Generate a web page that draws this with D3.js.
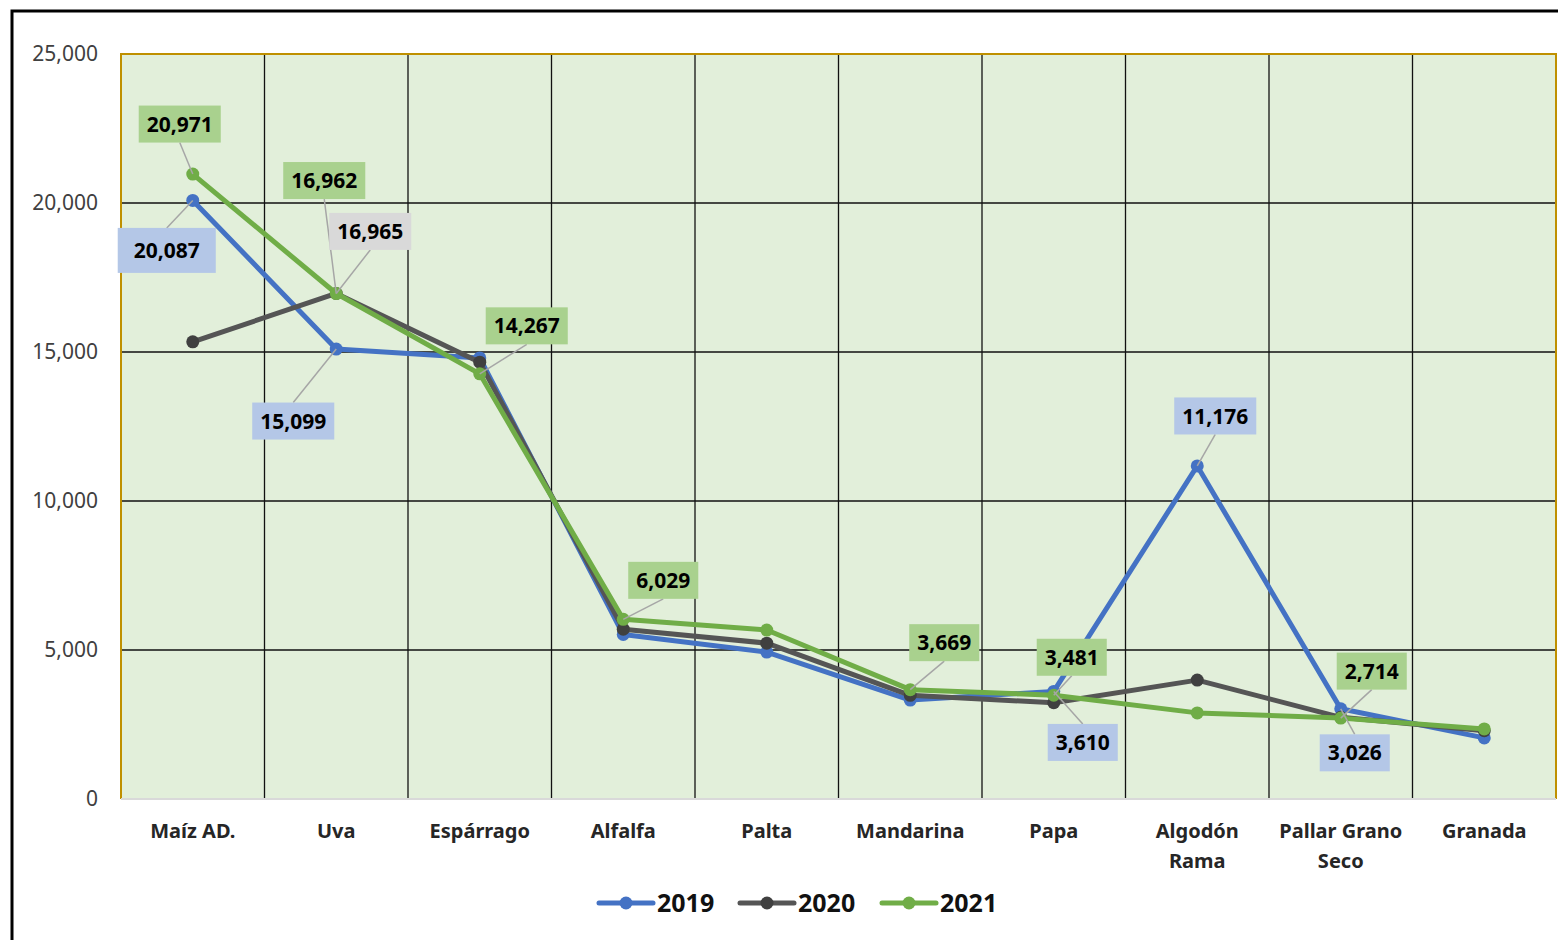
<!DOCTYPE html>
<html>
<head>
<meta charset="utf-8">
<script src="https://cdn.jsdelivr.net/npm/d3@7"></script>
<style>
  body { margin: 0; background: #fff; }
  text { font-family: "Noto Sans", sans-serif; }
</style>
</head>
<body>
<script>
var categories = ["Maíz AD.", "Uva", "Espárrago", "Alfalfa", "Palta", "Mandarina", "Papa", "Algodón Rama", "Pallar Grano Seco", "Granada"];
var years = ["2019", "2020", "2021"];
var values2019 = [20087, 15099, 14800, 5520, 4930, 3320, 3610, 11176, 3026, 2050];
var values2020 = [15340, 16965, 14660, 5700, 5230, 3480, 3230, 3990, 2740, 2290];
var values2021 = [20971, 16962, 14267, 6029, 5670, 3669, 3481, 2890, 2714, 2350];
var yTicks = [0, 5000, 10000, 15000, 20000, 25000];

// which points get a label box
var labelled = [
    { year: "2021", i: 0 }, { year: "2019", i: 0 },
    { year: "2021", i: 1 }, { year: "2020", i: 1 }, { year: "2019", i: 1 },
    { year: "2021", i: 2 }, { year: "2021", i: 3 }, { year: "2021", i: 5 },
    { year: "2021", i: 6 }, { year: "2019", i: 6 }, { year: "2019", i: 7 },
    { year: "2021", i: 8 }, { year: "2019", i: 8 }
];
// box offsets from the point (dx, dy) and extra padding, pixels
var labelOffsets = [[-13, -50, 0], [-26, 50, 8], [-12, -113, 0], [34, -62, 0], [-43, 72, 0], [47, -48, 0], [40, -39, 0],
    [34, -47, 0], [18, -38, 0], [29, 51, 0], [18, -50, 0], [31, -47, 0], [14, 44, 0]];

var series = [
    { year: "2019", values: values2019, color: "#4472c4", dot: "#4472c4", box: "#b4c7e7" },
    { year: "2020", values: values2020, color: "#555555", dot: "#404040", box: "#d9d9d9" },
    { year: "2021", values: values2021, color: "#70ad47", dot: "#70ad47", box: "#a9d18e" }
];

var width = 1558, height = 940;
var margin = { top: 54, right: 2, bottom: 141, left: 121 };

var svg = d3.select("body").append("svg")
    .attr("width", width)
    .attr("height", height);

// outer frame
svg.append("path")
    .attr("d", "M12,940 V11 H1558")
    .attr("fill", "none")
    .attr("stroke", "#000")
    .attr("stroke-width", 3);

var x = d3.scaleBand()
    .domain(categories)
    .range([margin.left, width - margin.right]);

var y = d3.scaleLinear()
    .domain([0, 25000])
    .range([height - margin.bottom, margin.top]);

var cx = d => x(d) + x.bandwidth() / 2;

svg.append("rect")
    .attr("x", margin.left)
    .attr("y", margin.top)
    .attr("width", width - margin.right - margin.left)
    .attr("height", y(0) - margin.top)
    .attr("fill", "#e2efda");

// horizontal grid
svg.append("g")
    .selectAll("line")
    .data(yTicks.filter(t => t > 0 && t < 25000))
    .join("line")
    .attr("x1", margin.left).attr("x2", width - margin.right)
    .attr("y1", d => y(d)).attr("y2", d => y(d))
    .attr("stroke", "#111").attr("stroke-width", 1.3);

// vertical grid
svg.append("g")
    .selectAll("line")
    .data(categories.slice(1))
    .join("line")
    .attr("x1", d => x(d)).attr("x2", d => x(d))
    .attr("y1", margin.top).attr("y2", y(0))
    .attr("stroke", "#111").attr("stroke-width", 1.3);

// plot border
svg.append("path")
    .attr("d", `M${margin.left},${y(0)} V${margin.top} H${width - margin.right} V${y(0)}`)
    .attr("fill", "none")
    .attr("stroke", "#bf9000")
    .attr("stroke-width", 2);

svg.append("line")
    .attr("x1", margin.left).attr("x2", width - margin.right)
    .attr("y1", y(0)).attr("y2", y(0))
    .attr("stroke", "#d9d9d9").attr("stroke-width", 2);

// y axis
var yAxis = g => g
    .attr("transform", `translate(${margin.left - 20},0)`)
    .call(d3.axisLeft(y).tickValues(yTicks).tickFormat(d3.format(",")).tickSize(0))
    .call(g => g.select(".domain").remove())
    .call(g => g.selectAll("text")
        .attr("font-family", "Noto Sans")
        .attr("font-size", 21)
        .attr("fill", "#404040"));
svg.append("g").call(yAxis);

// x labels, wrapped like the original
var wraps = { "Algodón Rama": ["Algodón", "Rama"], "Pallar Grano Seco": ["Pallar Grano", "Seco"] };
var xl = svg.append("g")
    .selectAll("text")
    .data(categories)
    .join("text")
    .attr("x", d => cx(d))
    .attr("y", 838)
    .attr("text-anchor", "middle")
    .attr("font-size", 20)
    .attr("font-weight", "bold")
    .attr("fill", "#262626");
xl.each(function (d) {
    var lines = wraps[d] || [d];
    d3.select(this).selectAll("tspan")
        .data(lines)
        .join("tspan")
        .attr("x", cx(d))
        .attr("dy", (l, k) => k === 0 ? 0 : 30)
        .text(l => l);
});

// lines + markers
var line = d3.line()
    .x((v, i) => cx(categories[i]))
    .y(v => y(v));

series.forEach(s => {
    svg.append("path")
        .datum(s.values)
        .attr("d", line)
        .attr("fill", "none")
        .attr("stroke", s.color)
        .attr("stroke-width", 5)
        .attr("stroke-linejoin", "round");
    svg.append("g")
        .selectAll("circle")
        .data(s.values)
        .join("circle")
        .attr("cx", (v, i) => cx(categories[i]))
        .attr("cy", v => y(v))
        .attr("r", 6.5)
        .attr("fill", s.dot);
});

// data labels
var fmt = d3.format(",");
var lg = svg.append("g");
labelled.forEach((l, k) => {
    var s = series.find(t => t.year === l.year);
    var v = s.values[l.i];
    var px = cx(categories[l.i]), py = y(v);
    var off = labelOffsets[k];
    var bx = px + off[0], by = py + off[1];
    var g = lg.append("g");
    var txt = g.append("text")
        .attr("x", bx).attr("y", by)
        .attr("dy", "0.36em")
        .attr("text-anchor", "middle")
        .attr("font-size", 21)
        .attr("font-weight", "bold")
        .attr("fill", "#000")
        .text(fmt(v));
    var w = txt.node().getComputedTextLength() + 16 + 2 * off[2], h = 37 + off[2];
    g.insert("rect", "text")
        .attr("x", bx - w / 2).attr("y", by - h / 2)
        .attr("width", w).attr("height", h)
        .attr("fill", s.box);
    var ey = by < py ? by + h / 2 : by - h / 2;
    lg.insert("line", ":first-child")
        .attr("x1", px).attr("y1", py)
        .attr("x2", bx).attr("y2", ey)
        .attr("stroke", "#a6a6a6").attr("stroke-width", 1.5);
});

// legend
var legendX = [599, 740, 882];
var legend = svg.append("g")
    .selectAll("g")
    .data(series)
    .join("g")
    .attr("transform", (d, i) => `translate(${legendX[i]},903)`);
legend.append("line")
    .attr("x1", 0).attr("x2", 54)
    .attr("stroke", d => d.color).attr("stroke-width", 5)
    .attr("stroke-linecap", "round");
legend.append("circle")
    .attr("cx", 27).attr("r", 6.5)
    .attr("fill", d => d.dot);
legend.append("text")
    .attr("x", 58).attr("y", 9)
    .attr("font-size", 25)
    .attr("font-weight", "bold")
    .attr("fill", "#111")
    .text(d => d.year);
</script>
</body>
</html>
